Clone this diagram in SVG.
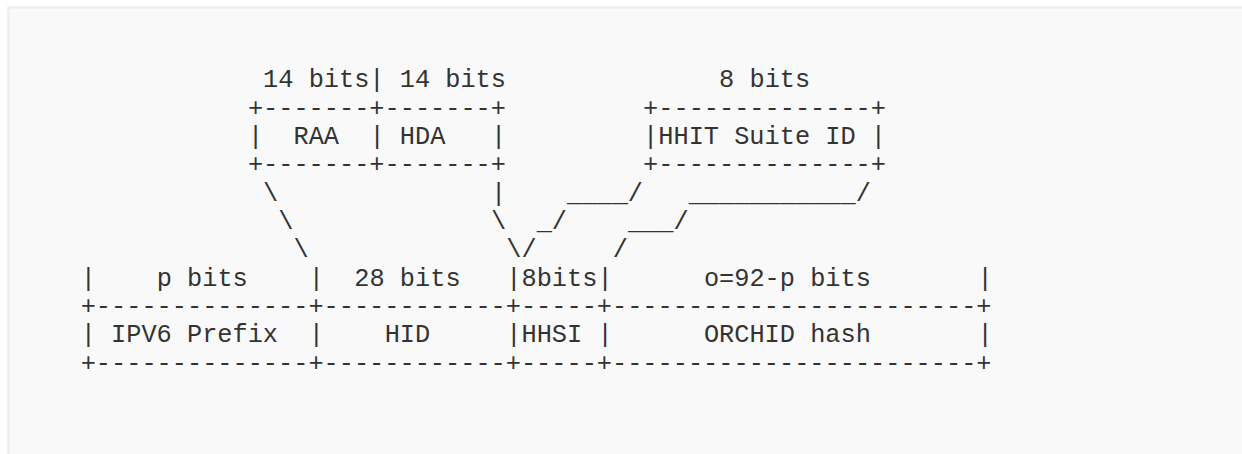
<svg xmlns="http://www.w3.org/2000/svg" width="1242" height="454" viewBox="0 0 1242 454">
<style>
text{font-family:"Liberation Mono","DejaVu Sans Mono",monospace;font-size:25.3px;fill:#333333;white-space:pre}
</style>
<rect x="0" y="0" width="1242" height="454" fill="#ffffff"/>
<rect x="8.5" y="7.5" width="1250" height="460" fill="#f9f9f9" stroke="#eeeeee" stroke-width="2.5"/>
<g id="labels-top">
<text x="263.1" y="87.3">14 bits| 14 bits</text>
<text x="719.1" y="87.3">8 bits</text>
</g>
<g id="node-raa-hda">
<text x="247.9" y="115.6">+-------+-------+</text>
<text x="247.9" y="144">|</text>
<text x="293.5" y="144">RAA</text>
<text x="369.5" y="144">| HDA</text>
<text x="491.1" y="144">|</text>
<text x="247.9" y="172.3">+-------+-------+</text>
</g>
<g id="node-hhit-suite">
<text x="643.1" y="115.6">+--------------+</text>
<text x="643.1" y="144">|HHIT Suite ID |</text>
<text x="643.1" y="172.3">+--------------+</text>
</g>
<g id="connectors">
<text x="263.1" y="200.6">\</text>
<text x="491.1" y="200.6">|</text>
<text x="567.1" y="200.6">____/</text>
<text x="688.7" y="200.6">___________/</text>
<text x="278.3" y="229">\</text>
<text x="491.1" y="229">\</text>
<text x="536.7" y="229">_/</text>
<text x="627.9" y="229">___/</text>
<text x="293.5" y="257.3">\</text>
<text x="506.3" y="257.3">\/</text>
<text x="612.7" y="257.3">/</text>
</g>
<g id="node-main">
<text x="80.7" y="285.6">|</text>
<text x="156.7" y="285.6">p bits</text>
<text x="308.7" y="285.6">|</text>
<text x="354.3" y="285.6">28 bits</text>
<text x="506.3" y="285.6">|8bits|</text>
<text x="703.9" y="285.6">o=92-p bits</text>
<text x="977.5" y="285.6">|</text>
<text x="80.7" y="314">+--------------+------------+-----+------------------------+</text>
<text x="80.7" y="342.3">| IPV6 Prefix</text>
<text x="308.7" y="342.3">|</text>
<text x="384.7" y="342.3">HID</text>
<text x="506.3" y="342.3">|HHSI |</text>
<text x="703.9" y="342.3">ORCHID hash</text>
<text x="977.5" y="342.3">|</text>
<text x="80.7" y="370.6">+--------------+------------+-----+------------------------+</text>
</g>
</svg>
